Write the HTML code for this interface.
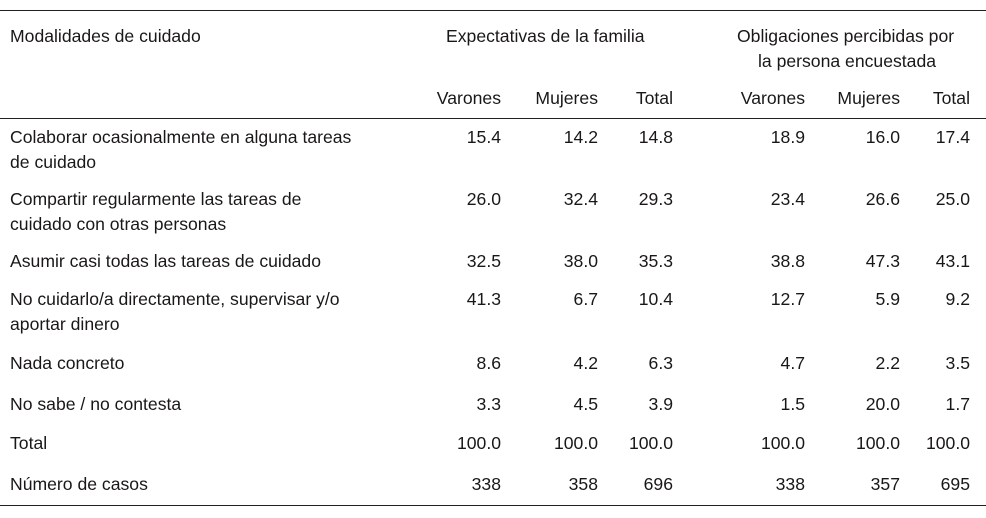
<!DOCTYPE html>
<html><head><meta charset="utf-8"><style>
body{margin:0;background:#fff;}
#t{position:relative;width:986px;height:518px;font-family:"Liberation Sans",sans-serif;font-size:17.6px;color:#1a1718;}
.l{position:absolute;left:10px;white-space:nowrap;line-height:20px;}
.n{position:absolute;text-align:right;width:80px;line-height:20px;}
.c{position:absolute;white-space:nowrap;line-height:20px;}
.rule{position:absolute;left:0;width:986px;height:1px;background:#231f20;}
</style></head><body>
<div id="t">
<div class="rule" style="top:10px"></div>
<div class="rule" style="top:118px"></div>
<div class="rule" style="top:505px"></div>
<div class="l" style="top:26px">Modalidades de cuidado</div>
<div class="c" style="top:26px;left:446px">Expectativas de la familia</div>
<div class="c" style="top:26px;left:737px">Obligaciones percibidas por</div>
<div class="c" style="top:51px;left:758px">la persona encuestada</div>
</div>
<script>
const colX=[501,598,673,805,900,970];
const headers=["Varones","Mujeres","Total","Varones","Mujeres","Total"];
const labels=[["Colaborar ocasionalmente en alguna tareas","de cuidado"],["Compartir regularmente las tareas de","cuidado con otras personas"],["Asumir casi todas las tareas de cuidado"],["No cuidarlo/a directamente, supervisar y/o","aportar dinero"],["Nada concreto"],["No sabe / no contesta"],["Total"],["Número de casos"]];
const rowY=[127,189,251,289,353,394,433,474];
const values=[["15.4","14.2","14.8","18.9","16.0","17.4"],["26.0","32.4","29.3","23.4","26.6","25.0"],["32.5","38.0","35.3","38.8","47.3","43.1"],["41.3","6.7","10.4","12.7","5.9","9.2"],["8.6","4.2","6.3","4.7","2.2","3.5"],["3.3","4.5","3.9","1.5","20.0","1.7"],["100.0","100.0","100.0","100.0","100.0","100.0"],["338","358","696","338","357","695"]];
const t=document.getElementById('t');
headers.forEach((h,i)=>{const d=document.createElement('div');d.className='n';d.style.top='88px';d.style.left=(colX[i]-80)+'px';d.textContent=h;


t.appendChild(d);});
labels.forEach((lab,r)=>{lab.forEach((s,k)=>{const d=document.createElement('div');d.className='l';d.style.top=(rowY[r]+k*25)+'px';d.textContent=s;


t.appendChild(d);});
values[r].forEach((v,i)=>{const d=document.createElement('div');d.className='n';d.style.top=rowY[r]+'px';d.style.left=(colX[i]-80)+'px';d.textContent=v;


t.appendChild(d);});});
</script>
</body></html>
